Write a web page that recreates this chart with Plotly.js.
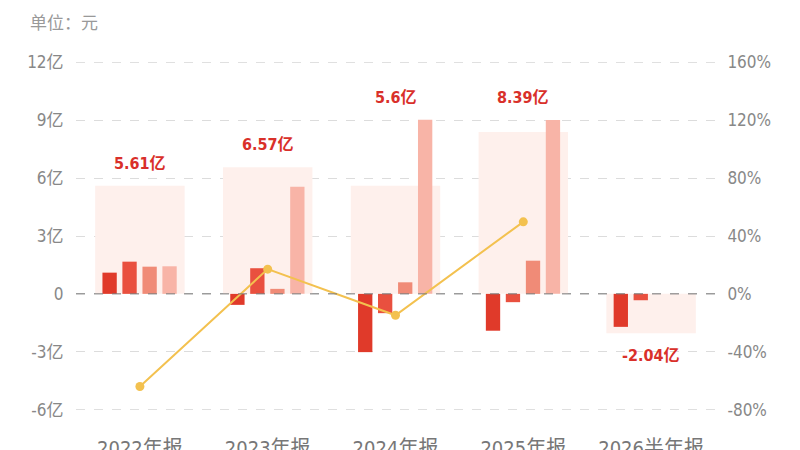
<!DOCTYPE html>
<html>
<head>
<meta charset="utf-8">
<script src="https://cdn.plot.ly/plotly-3.0.1.min.js"></script>
<style>
  html, body { margin: 0; padding: 0; background: #fff; }
  #chart { width: 800px; height: 450px; }
</style>
</head>
<body>
<div id="chart"></div>
<script>
// reporting periods
const categories = ['2022年报', '2023年报', '2024年报', '2025年报', '2026半年报'];
// quarterly values (亿元)
const q1 = [1.10, -0.57, -3.02, -1.91, -1.71];
const q2 = [1.67, 1.33, -1.00, -0.43, -0.33];
const q3 = [1.41, 0.26, 0.60, 1.72, null];
const q4 = [1.43, 5.55, 9.02, 9.01, null];
// yearly total (亿元) and year-on-year growth (%)
const totals = [5.61, 6.57, 5.6, 8.39, -2.04];
const growth = [-64.0, 17.1, -14.8, 49.8, null];
// axis ticks
const leftTicks = [-6, -3, 0, 3, 6, 9, 12];
const leftLabels = ['-6亿', '-3亿', '0', '3亿', '6亿', '9亿', '12亿'];
const rightTicks = [-80, -40, 0, 40, 80, 120, 160];
const rightLabels = ['-80%', '-40%', '0%', '40%', '80%', '120%', '160%'];

const FONT = '"DejaVu Sans Condensed", "Noto Sans CJK SC", sans-serif';
const barColors = ['#e03a2a', '#e9503f', '#f08b77', '#f8b4a7'];
const quarters = [q1, q2, q3, q4];
const offsets = [-0.293, -0.137, 0.020, 0.176];

let traces = [];

// light background box = yearly total
traces.push({
    type: 'bar', x: categories, y: totals,
    width: 0.7, offset: -0.35,
    marker: { color: '#fef0ec' },
    hoverinfo: 'skip', showlegend: false
});

quarters.forEach((q, i) => {
    traces.push({
        type: 'bar', x: categories, y: q,
        width: 0.112, offset: offsets[i],
        marker: { color: barColors[i] },
        hoverinfo: 'skip', showlegend: false
    });
});

traces.push({
    type: 'scatter', mode: 'lines+markers',
    x: categories, y: growth, yaxis: 'y2',
    line: { color: '#f3c14f', width: 2 },
    marker: { color: '#f3c14f', size: 9 },
    connectgaps: false,
    hoverinfo: 'skip', showlegend: false
});

// total labels above / below each group
let annotations = categories.map((c, i) => {
    let vals = [totals[i], q1[i], q2[i], q3[i], q4[i]].filter(v => v !== null);
    let pos = totals[i] >= 0;
    let yv = pos ? Math.max(...vals) : Math.min(...vals);
    return {
        x: c, y: yv, xref: 'x', yref: 'y',
        text: '<b>' + totals[i] + '亿</b>',
        showarrow: false,
        yanchor: pos ? 'bottom' : 'top',
        yshift: pos ? 11 : -11,
        font: { family: FONT, size: 16, color: '#d9302a' }
    };
});

// unit label, placed in paper coords from pixel position (28, 23)
annotations.push({
    x: (28 - 76) / (800 - 76 - 85), y: 1 + (62 - 23) / (450 - 62 - 40),
    xref: 'paper', yref: 'paper',
    text: '单位：元', showarrow: false,
    xanchor: 'left', yanchor: 'middle',
    font: { family: FONT, size: 17, color: '#999' }
});

// edge grid lines (plotly drops grid lines that sit on the plot edge)
let shapes = [12, -6].map(v => ({
    type: 'line', xref: 'paper', yref: 'y', layer: 'below',
    x0: 0, x1: 1, y0: v, y1: v,
    line: { color: '#dcdcdc', width: 1, dash: 'dash' }
}));
shapes.push({
    type: 'line', xref: 'paper', yref: 'y',
    x0: 0, x1: 1, y0: 0, y1: 0,
    line: { color: '#777', width: 1, dash: 'dash' }
});

const layout = {
    width: 800, height: 450,
    margin: { l: 76, r: 85, t: 62, b: 40 },
    paper_bgcolor: '#fff', plot_bgcolor: '#fff',
    barmode: 'overlay',
    font: { family: FONT, color: '#888' },
    xaxis: {
        type: 'category',
        showgrid: false, zeroline: false, showline: false,
        ticks: 'outside', ticklen: 0,
        ticklabelstandoff: 20,
        tickfont: { family: FONT, size: 20, color: '#777' },
        fixedrange: true
    },
    yaxis: {
        range: [-6.02, 12.02],
        tickvals: leftTicks, ticktext: leftLabels,
        showgrid: true, gridcolor: '#dcdcdc', griddash: 'dash', gridwidth: 1,
        zeroline: false, showline: false,
        ticks: 'outside', ticklen: 0, ticklabelstandoff: 8,
        tickfont: { family: FONT, size: 17, color: '#888' },
        fixedrange: true
    },
    yaxis2: {
        overlaying: 'y', side: 'right',
        range: [-80.27, 160.27],
        tickvals: rightTicks, ticktext: rightLabels,
        showgrid: false, zeroline: false, showline: false,
        ticks: 'outside', ticklen: 0, ticklabelstandoff: 8,
        tickfont: { family: FONT, size: 17, color: '#888' },
        fixedrange: true
    },
    shapes: shapes,
    annotations: annotations
};

Plotly.newPlot('chart', traces, layout, { displayModeBar: false, staticPlot: true });
</script>
</body>
</html>
